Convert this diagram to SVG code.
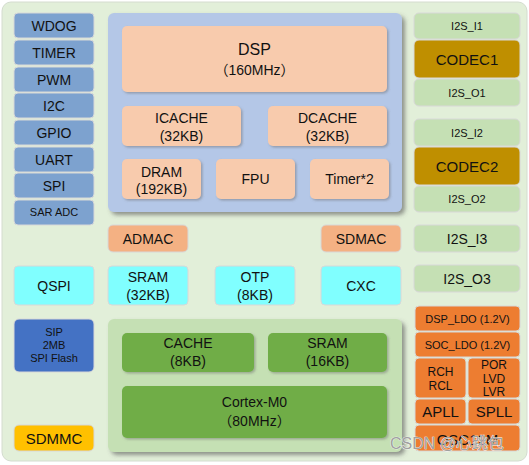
<svg xmlns="http://www.w3.org/2000/svg" width="529" height="465" viewBox="0 0 529 465">
<defs>
<filter id="sh" x="-10%" y="-10%" width="125%" height="125%">
<feDropShadow dx="3" dy="3" stdDeviation="2" flood-color="#555" flood-opacity="0.6"/>
</filter>
<filter id="shs" x="-10%" y="-10%" width="125%" height="130%">
<feDropShadow dx="1.5" dy="1.5" stdDeviation="1" flood-color="#666" flood-opacity="0.45"/>
</filter>
<style>
text{font-family:"Liberation Sans",Arial,"Noto Sans CJK SC",sans-serif;fill:#111;text-anchor:middle}
.cjk{font-family:"Noto Sans CJK SC","Noto Sans CJK JP",sans-serif}
.b{stroke:#d8d8d8;stroke-width:1}
.blue{fill:#7da2cf}
.peach{fill:#f8cbad}
.dma{fill:#f4b183}
.cyan{fill:#80ffff}
.lg{fill:#c5e0b4}
.codec{fill:#bf8f00}
.org{fill:#ed7d31}
.grn{fill:#70ad47}
.f11{font-size:11px}
.f12{font-size:12px}
.f13{font-size:13px}
.f14{font-size:14px}
.f15{font-size:15px}
.f16{font-size:16px}
</style>
</defs>
<rect x="2" y="2" width="525" height="459" rx="9" fill="#e2efd9" stroke="#d4dccf"/>

<g id="left">
<g id="wdog"><rect class="b blue" x="14" y="13" width="80" height="25" rx="4"/><text class="f14" x="54" y="31">WDOG</text></g>
<g id="timer"><rect class="b blue" x="14" y="40" width="80" height="25" rx="4"/><text class="f14" x="54" y="58">TIMER</text></g>
<g id="pwm"><rect class="b blue" x="14" y="67" width="80" height="25" rx="4"/><text class="f14" x="54" y="85">PWM</text></g>
<g id="i2c"><rect class="b blue" x="14" y="93" width="80" height="25" rx="4"/><text class="f14" x="54" y="111">I2C</text></g>
<g id="gpio"><rect class="b blue" x="14" y="120" width="80" height="25" rx="4"/><text class="f14" x="54" y="138">GPIO</text></g>
<g id="uart"><rect class="b blue" x="14" y="147" width="80" height="25" rx="4"/><text class="f14" x="54" y="165">UART</text></g>
<g id="spi"><rect class="b blue" x="14" y="173" width="80" height="25" rx="4"/><text class="f14" x="54" y="191">SPI</text></g>
<g id="saradc"><rect class="b blue" x="14" y="200" width="80" height="25" rx="4"/><text class="f11" x="54" y="216">SAR ADC</text></g>
<g id="qspi"><rect class="b cyan" x="14" y="266" width="80" height="39" rx="4"/><text class="f14" x="54" y="291">QSPI</text></g>
<g id="sip"><rect class="b" fill="#4472c4" x="14" y="319" width="80" height="53" rx="5"/>
<text class="f11" x="54" y="336">SIP</text><text class="f11" x="54" y="349">2MB</text><text class="f11" x="54" y="362">SPI Flash</text></g>
<g id="sdmmc"><rect class="b" fill="#ffc000" x="14" y="425" width="80" height="26" rx="5"/><text class="f15" x="54" y="443.5">SDMMC</text></g>
</g>

<g id="dsp-block">
<rect x="108" y="13" width="294" height="199" rx="6" fill="#b4c7e7" filter="url(#sh)"/>
<g id="dsp"><rect class="peach" x="122" y="26" width="265" height="66" rx="5" filter="url(#shs)"/><text class="f16" x="254.5" y="55">DSP</text><text class="f14" x="254.5" y="75"><tspan class="cjk">（</tspan>160MHz<tspan class="cjk">）</tspan></text></g>
<g id="icache"><rect class="peach" x="122" y="106" width="119" height="40" rx="5" filter="url(#shs)"/><text class="f14" x="181.5" y="123">ICACHE</text><text class="f14" x="181.5" y="141">(32KB)</text></g>
<g id="dcache"><rect class="peach" x="268" y="106" width="119" height="40" rx="5" filter="url(#shs)"/><text class="f14" x="327.5" y="123">DCACHE</text><text class="f14" x="327.5" y="141">(32KB)</text></g>
<g id="dram"><rect class="peach" x="122" y="159" width="79" height="40" rx="5" filter="url(#shs)"/><text class="f14" x="161.5" y="177">DRAM</text><text class="f14" x="161.5" y="194">(192KB)</text></g>
<g id="fpu"><rect class="peach" x="216" y="159" width="79" height="40" rx="5" filter="url(#shs)"/><text class="f14" x="255.5" y="184">FPU</text></g>
<g id="timer2"><rect class="peach" x="310" y="159" width="79" height="40" rx="5" filter="url(#shs)"/><text class="f14" x="349.5" y="184">Timer*2</text></g>
</g>

<g id="mid">
<g id="admac"><rect class="b dma" x="108" y="225" width="80" height="27" rx="5"/><text class="f14" x="148" y="243.5">ADMAC</text></g>
<g id="sdmac"><rect class="b dma" x="321" y="225" width="80" height="27" rx="5"/><text class="f14" x="361" y="243.5">SDMAC</text></g>
<g id="sram32"><rect class="b cyan" x="108" y="266" width="80" height="39" rx="4"/><text class="f14" x="148" y="282">SRAM</text><text class="f14" x="148" y="300">(32KB)</text></g>
<g id="otp"><rect class="b cyan" x="215" y="266" width="80" height="39" rx="4"/><text class="f14" x="255" y="282">OTP</text><text class="f14" x="255" y="300">(8KB)</text></g>
<g id="cxc"><rect class="b cyan" x="321" y="266" width="80" height="39" rx="4"/><text class="f14" x="361" y="291">CXC</text></g>
</g>

<g id="m0-block">
<rect x="108" y="319" width="294" height="133" rx="6" fill="#c5e0b4" filter="url(#sh)"/>
<g id="cache"><rect class="grn" x="122" y="333" width="132" height="39" rx="5" filter="url(#shs)"/><text class="f14" x="188" y="348">CACHE</text><text class="f14" x="188" y="366">(8KB)</text></g>
<g id="sram16"><rect class="grn" x="268" y="333" width="119" height="39" rx="5" filter="url(#shs)"/><text class="f14" x="327.5" y="348">SRAM</text><text class="f14" x="327.5" y="366">(16KB)</text></g>
<g id="m0"><rect class="grn" x="122" y="386" width="265" height="52" rx="5" filter="url(#shs)"/><text class="f14" x="254.5" y="407">Cortex-M0</text><text class="f14" x="254.5" y="426"><tspan class="cjk">（</tspan>80MHz<tspan class="cjk">）</tspan></text></g>
</g>

<g id="right">
<g id="i2si1"><rect class="b lg" x="414" y="13" width="106" height="26" rx="5"/><text class="f11" x="467" y="30">I2S_I1</text></g>
<g id="codec1"><rect class="b codec" x="414" y="40" width="106" height="38" rx="5"/><text class="f15" x="467" y="64.5">CODEC1</text></g>
<g id="i2so1"><rect class="b lg" x="414" y="79" width="106" height="27" rx="5"/><text class="f11" x="467" y="96.5">I2S_O1</text></g>
<g id="i2si2"><rect class="b lg" x="414" y="119" width="106" height="27" rx="5"/><text class="f11" x="467" y="136.5">I2S_I2</text></g>
<g id="codec2"><rect class="b codec" x="414" y="147" width="106" height="38" rx="5"/><text class="f15" x="467" y="171.5">CODEC2</text></g>
<g id="i2so2"><rect class="b lg" x="414" y="186" width="106" height="26" rx="5"/><text class="f11" x="467" y="203">I2S_O2</text></g>
<g id="i2si3"><rect class="b lg" x="414" y="225" width="106" height="27" rx="5"/><text class="f14" x="467" y="243.5">I2S_I3</text></g>
<g id="i2so3"><rect class="b lg" x="414" y="265" width="106" height="27" rx="5"/><text class="f14" x="467" y="283.5">I2S_O3</text></g>
<g id="dspldo"><rect class="b org" x="415" y="306" width="105" height="25" rx="4"/><text class="f11" x="467.5" y="322.5">DSP_LDO (1.2V)</text></g>
<g id="socldo"><rect class="b org" x="415" y="332" width="105" height="25" rx="4"/><text class="f11" x="467.5" y="349">SOC_LDO (1.2V)</text></g>
<g id="rch"><rect class="b org" x="415" y="358" width="51" height="40" rx="4"/><text class="f12" x="440.5" y="376">RCH</text><text class="f12" x="440.5" y="390">RCL</text></g>
<g id="por"><rect class="b org" x="468" y="358" width="52" height="40" rx="4"/><text class="f12" x="494" y="369">POR</text><text class="f12" x="494" y="383">LVD</text><text class="f12" x="494" y="396">LVR</text></g>
<g id="apll"><rect class="b org" x="415" y="399" width="51" height="25" rx="4"/><text class="f15" x="440.5" y="417">APLL</text></g>
<g id="spll"><rect class="b org" x="468" y="399" width="52" height="25" rx="4"/><text class="f15" x="494" y="417">SPLL</text></g>
<g id="osc"><rect class="b org" x="415" y="425" width="105" height="26" rx="4"/><text class="f15" x="467.5" y="444.5">OSC12M</text></g>
</g>

<g id="connectors"></g>

<text x="447" y="449" style="font-size:16px;fill:#a0a0a0;stroke:#ffffff;stroke-width:0.7;paint-order:stroke">CSDN @心跳包</text>
</svg>
